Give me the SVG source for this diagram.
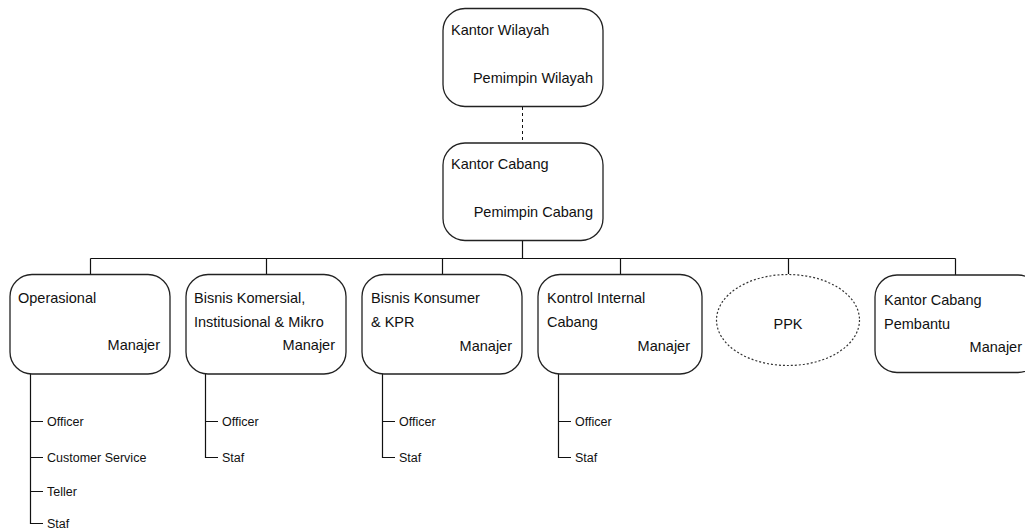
<svg xmlns="http://www.w3.org/2000/svg" width="1025" height="531" viewBox="0 0 1025 531">
<style>
.box{fill:#fff;stroke:#222;stroke-width:1.3}
.ell{fill:#fff;stroke:#333;stroke-width:1.2;stroke-dasharray:2 2}
.ln{stroke:#111;stroke-width:1.2;fill:none}
.dash{stroke:#111;stroke-width:1;stroke-dasharray:3 3;fill:none}
text{font-family:"Liberation Sans",Arial,sans-serif;fill:#111}
.t{font-size:14.5px}
.s{font-size:12.5px}
.r{text-anchor:end}
</style>
<rect width="1025" height="531" fill="#fff"/>
<g id="connectors">
<path class="dash" d="M522.5 107V142"/>
<path class="ln" d="M522.5 241V258.5M90.5 258.5H955.5M90.5 258.5V274M266.5 258.5V274M442.5 258.5V274M620.5 258.5V274M788.5 258.5V274M955.5 258.5V275"/>
<path class="ln" d="M30.5 374V523.5H43M30.5 421.5H43M30.5 457.5H43M30.5 491.5H43"/>
<path class="ln" d="M205.5 374V457.5H218M205.5 421.5H218"/>
<path class="ln" d="M382.5 374V457.5H395M382.5 421.5H395"/>
<path class="ln" d="M558.5 374V457.5H571M558.5 421.5H571"/>
</g>
<g id="kantor-wilayah">
<rect class="box" x="443" y="8.5" width="160" height="98" rx="22"/>
<text class="t" x="451" y="35">Kantor Wilayah</text>
<text class="t r" x="593" y="83">Pemimpin Wilayah</text>
</g>
<g id="kantor-cabang">
<rect class="box" x="443" y="143" width="160" height="97.5" rx="22"/>
<text class="t" x="451" y="169">Kantor Cabang</text>
<text class="t r" x="593" y="217">Pemimpin Cabang</text>
</g>
<g id="operasional">
<rect class="box" x="10" y="274.5" width="160" height="99.5" rx="22"/>
<text class="t" x="18" y="303">Operasional</text>
<text class="t r" x="160" y="350">Manajer</text>
</g>
<g id="bisnis-komersial">
<rect class="box" x="186" y="274.5" width="160" height="99.5" rx="22"/>
<text class="t" x="194" y="303">Bisnis Komersial,</text>
<text class="t" x="194" y="327">Institusional &amp; Mikro</text>
<text class="t r" x="335" y="350">Manajer</text>
</g>
<g id="bisnis-konsumer">
<rect class="box" x="362" y="274.5" width="160" height="99.5" rx="22"/>
<text class="t" x="371" y="303">Bisnis Konsumer</text>
<text class="t" x="371" y="327">&amp; KPR</text>
<text class="t r" x="512" y="351">Manajer</text>
</g>
<g id="kontrol-internal">
<rect class="box" x="538" y="274.5" width="164" height="99.5" rx="22"/>
<text class="t" x="547" y="303">Kontrol Internal</text>
<text class="t" x="547" y="327">Cabang</text>
<text class="t r" x="690" y="351">Manajer</text>
</g>
<g id="ppk">
<ellipse class="ell" cx="788" cy="320" rx="71.5" ry="45.5"/>
<text class="t" x="788" y="329" text-anchor="middle">PPK</text>
</g>
<g id="kantor-cabang-pembantu">
<rect class="box" x="875" y="275" width="165" height="97.5" rx="22"/>
<text class="t" x="884" y="305">Kantor Cabang</text>
<text class="t" x="884" y="329">Pembantu</text>
<text class="t r" x="1022" y="352">Manajer</text>
</g>
<g id="sub-operasional">
<text class="s" x="47" y="426">Officer</text>
<text class="s" x="47" y="462">Customer Service</text>
<text class="s" x="47" y="496">Teller</text>
<text class="s" x="47" y="528">Staf</text>
</g>
<g id="sub-komersial">
<text class="s" x="222" y="426">Officer</text>
<text class="s" x="222" y="462">Staf</text>
</g>
<g id="sub-konsumer">
<text class="s" x="399" y="426">Officer</text>
<text class="s" x="399" y="462">Staf</text>
</g>
<g id="sub-kontrol">
<text class="s" x="575" y="426">Officer</text>
<text class="s" x="575" y="462">Staf</text>
</g>
</svg>
